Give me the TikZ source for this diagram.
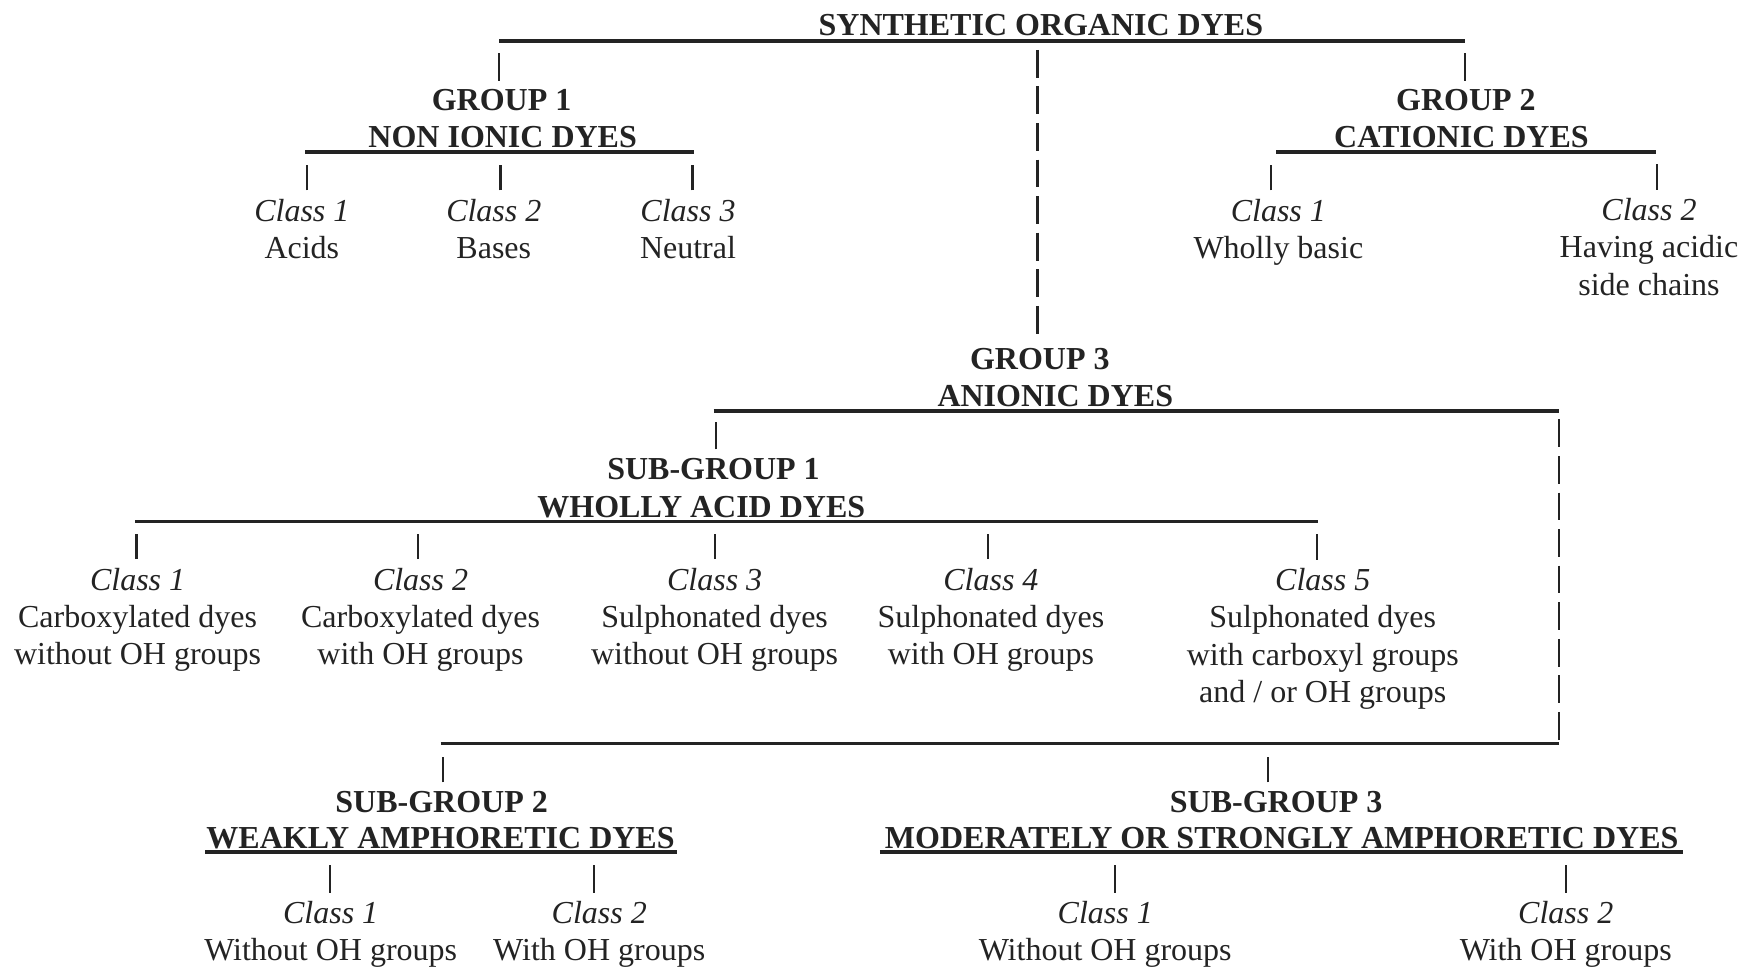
\documentclass[tikz,border=0pt]{standalone}
\usepackage{fontspec}
\setmainfont{Liberation Serif}
\definecolor{ink}{RGB}{35,35,35}

\tikzset{
  lbl/.style={anchor=base, inner xsep=0pt, inner ysep=2.3pt, align=center,
              font=\fontsize{9.1}{10.6}\selectfont, text=ink},
  head/.style={lbl, font=\fontsize{9.1}{10.6}\selectfont\bfseries},
  bar/.style={draw=ink, line width=1.1pt},
  tick/.style={draw=ink, line width=0.6pt},
  dashline/.style={draw=ink, line width=0.65pt, dash pattern=on 7.9pt off 2.5pt}
}

\begin{document}
\begin{tikzpicture}[x=0.011097cm, y=-0.011097cm]
\useasboundingbox (0,0) rectangle (1568,871);

% Define coordinates for the ends of the bars
\coordinate (t0l) at (450,37);   % top bar
\coordinate (t0r) at (1320,37);
\coordinate (g1l) at (275,137);  % group 1
\coordinate (g1r) at (625,137);
\coordinate (g2l) at (1150,137); % group 2
\coordinate (g2r) at (1492,137);
\coordinate (g3l) at (643,370);  % group 3
\coordinate (g3r) at (1405,370);
\coordinate (s1l) at (122,470);  % sub-group 1
\coordinate (s1r) at (1188,470);
\coordinate (bbl) at (397,670);  % bar to sub-groups 2 and 3
\coordinate (bbr) at (1405,670);
\coordinate (s2l) at (185,768);
\coordinate (s2r) at (610,768);
\coordinate (s3l) at (793,768);
\coordinate (s3r) at (1517,768);
\coordinate (dtop) at (935,45);  % dashed lines
\coordinate (rtop) at (1405,378);

% Headings
\node[head] (top) at (938,32) {SYNTHETIC ORGANIC DYES};
\node[head] (g1)  at (452,100)  {GROUP 1};
\node[head] (g1t) at (453,133) {NON IONIC DYES};
\node[head] (g2)  at (1321,100) {GROUP 2};
\node[head] (g2t) at (1317,133) {CATIONIC DYES};
\node[head] (g3)  at (937,333) {GROUP 3};
\node[head] (g3t) at (951,366) {ANIONIC DYES};
\node[head] (s1)  at (643,432) {SUB-GROUP 1};
\node[head] (s1t) at (632,466) {WHOLLY ACID DYES};
\node[head] (s2)  at (398,732) {SUB-GROUP 2};
\node[head] (s2t) at (397,765) {WEAKLY AMPHORETIC DYES};
\node[head] (s3)  at (1150,732) {SUB-GROUP 3};
\node[head] (s3t) at (1155,765) {MODERATELY OR STRONGLY AMPHORETIC DYES};

% Classes of group 1 and group 2 (placed by their last line)
\node[lbl] (n1) at (272,233) {\textit{Class 1}\\Acids};
\node[lbl] (n2) at (445,233) {\textit{Class 2}\\Bases};
\node[lbl] (n3) at (620,233) {\textit{Class 3}\\Neutral};
\node[lbl] (k1) at (1152,233) {\textit{Class 1}\\Wholly basic};
\node[lbl] (k2) at (1486,266) {\textit{Class 2}\\Having acidic\\side chains};

% Classes of sub-group 1
\node[lbl] (a1) at (124,599) {\textit{Class 1}\\Carboxylated dyes\\without OH groups};
\node[lbl] (a2) at (379,599) {\textit{Class 2}\\Carboxylated dyes\\with OH groups};
\node[lbl] (a3) at (644,599) {\textit{Class 3}\\Sulphonated dyes\\without OH groups};
\node[lbl] (a4) at (893,599) {\textit{Class 4}\\Sulphonated dyes\\with OH groups};
\node[lbl] (a5) at (1192,633) {\textit{Class 5}\\Sulphonated dyes\\with carboxyl groups\\and / or OH groups};

% Classes of sub-groups 2 and 3
\node[lbl] (w1) at (298,866) {\textit{Class 1}\\Without OH groups};
\node[lbl] (w2) at (540,866) {\textit{Class 2}\\With OH groups};
\node[lbl] (m1) at (996,866) {\textit{Class 1}\\Without OH groups};
\node[lbl] (m2) at (1411,866) {\textit{Class 2}\\With OH groups};

% Draw the bars
\draw[bar] (t0l) -- (t0r);
\draw[bar] (g1l) -- (g1r);
\draw[bar] (g2l) -- (g2r);
\draw[bar] (g3l) -- (g3r);
\draw[bar] (s1l) -- (s1r);
\draw[bar] (bbl) -- (bbr);
\draw[bar] (s2l) -- (s2r);
\draw[bar] (s3l) -- (s3r);

% Draw the dashed links to group 3 and sub-groups 2, 3
\draw[dashline] (dtop) -- (dtop |- g3.north);
\draw[dashline] (rtop) -- (bbr);

% Ticks
\draw[tick] (g1.north) ++(-2,0) -- ++(0,-25);
\draw[tick] (g2.north) ++(-1,0) -- ++(0,-25);
\draw[tick] (n1.north) ++(5,0) -- ++(0,-23);
\draw[tick] (n2.north) ++(6,0) -- ++(0,-23);
\draw[tick] (n3.north) ++(4,0) -- ++(0,-23);
\draw[tick] (k1.north) ++(-7,0) -- ++(0,-23);
\draw[tick] (k2.north) ++(7,0) -- ++(0,-23);
\draw[tick] (s1.north) ++(2,0) -- ++(0,-25);
\draw[tick] (a1.north) ++(-1,0) -- ++(0,-23);
\draw[tick] (a2.north) ++(-2,0) -- ++(0,-23);
\draw[tick] (a3.north) -- ++(0,-23);
\draw[tick] (a4.north) ++(-3,0) -- ++(0,-23);
\draw[tick] (a5.north) ++(-5,0) -- ++(0,-23);
\draw[tick] (s2.north) ++(1,0) -- ++(0,-23);
\draw[tick] (s3.north) ++(-7,0) -- ++(0,-23);
\draw[tick] (w1.north) ++(-1,0) -- ++(0,-25);
\draw[tick] (w2.north) ++(-5,0) -- ++(0,-25);
\draw[tick] (m1.north) ++(9,0) -- ++(0,-25);
\draw[tick] (m2.north) -- ++(0,-25);

\end{tikzpicture}
\end{document}
